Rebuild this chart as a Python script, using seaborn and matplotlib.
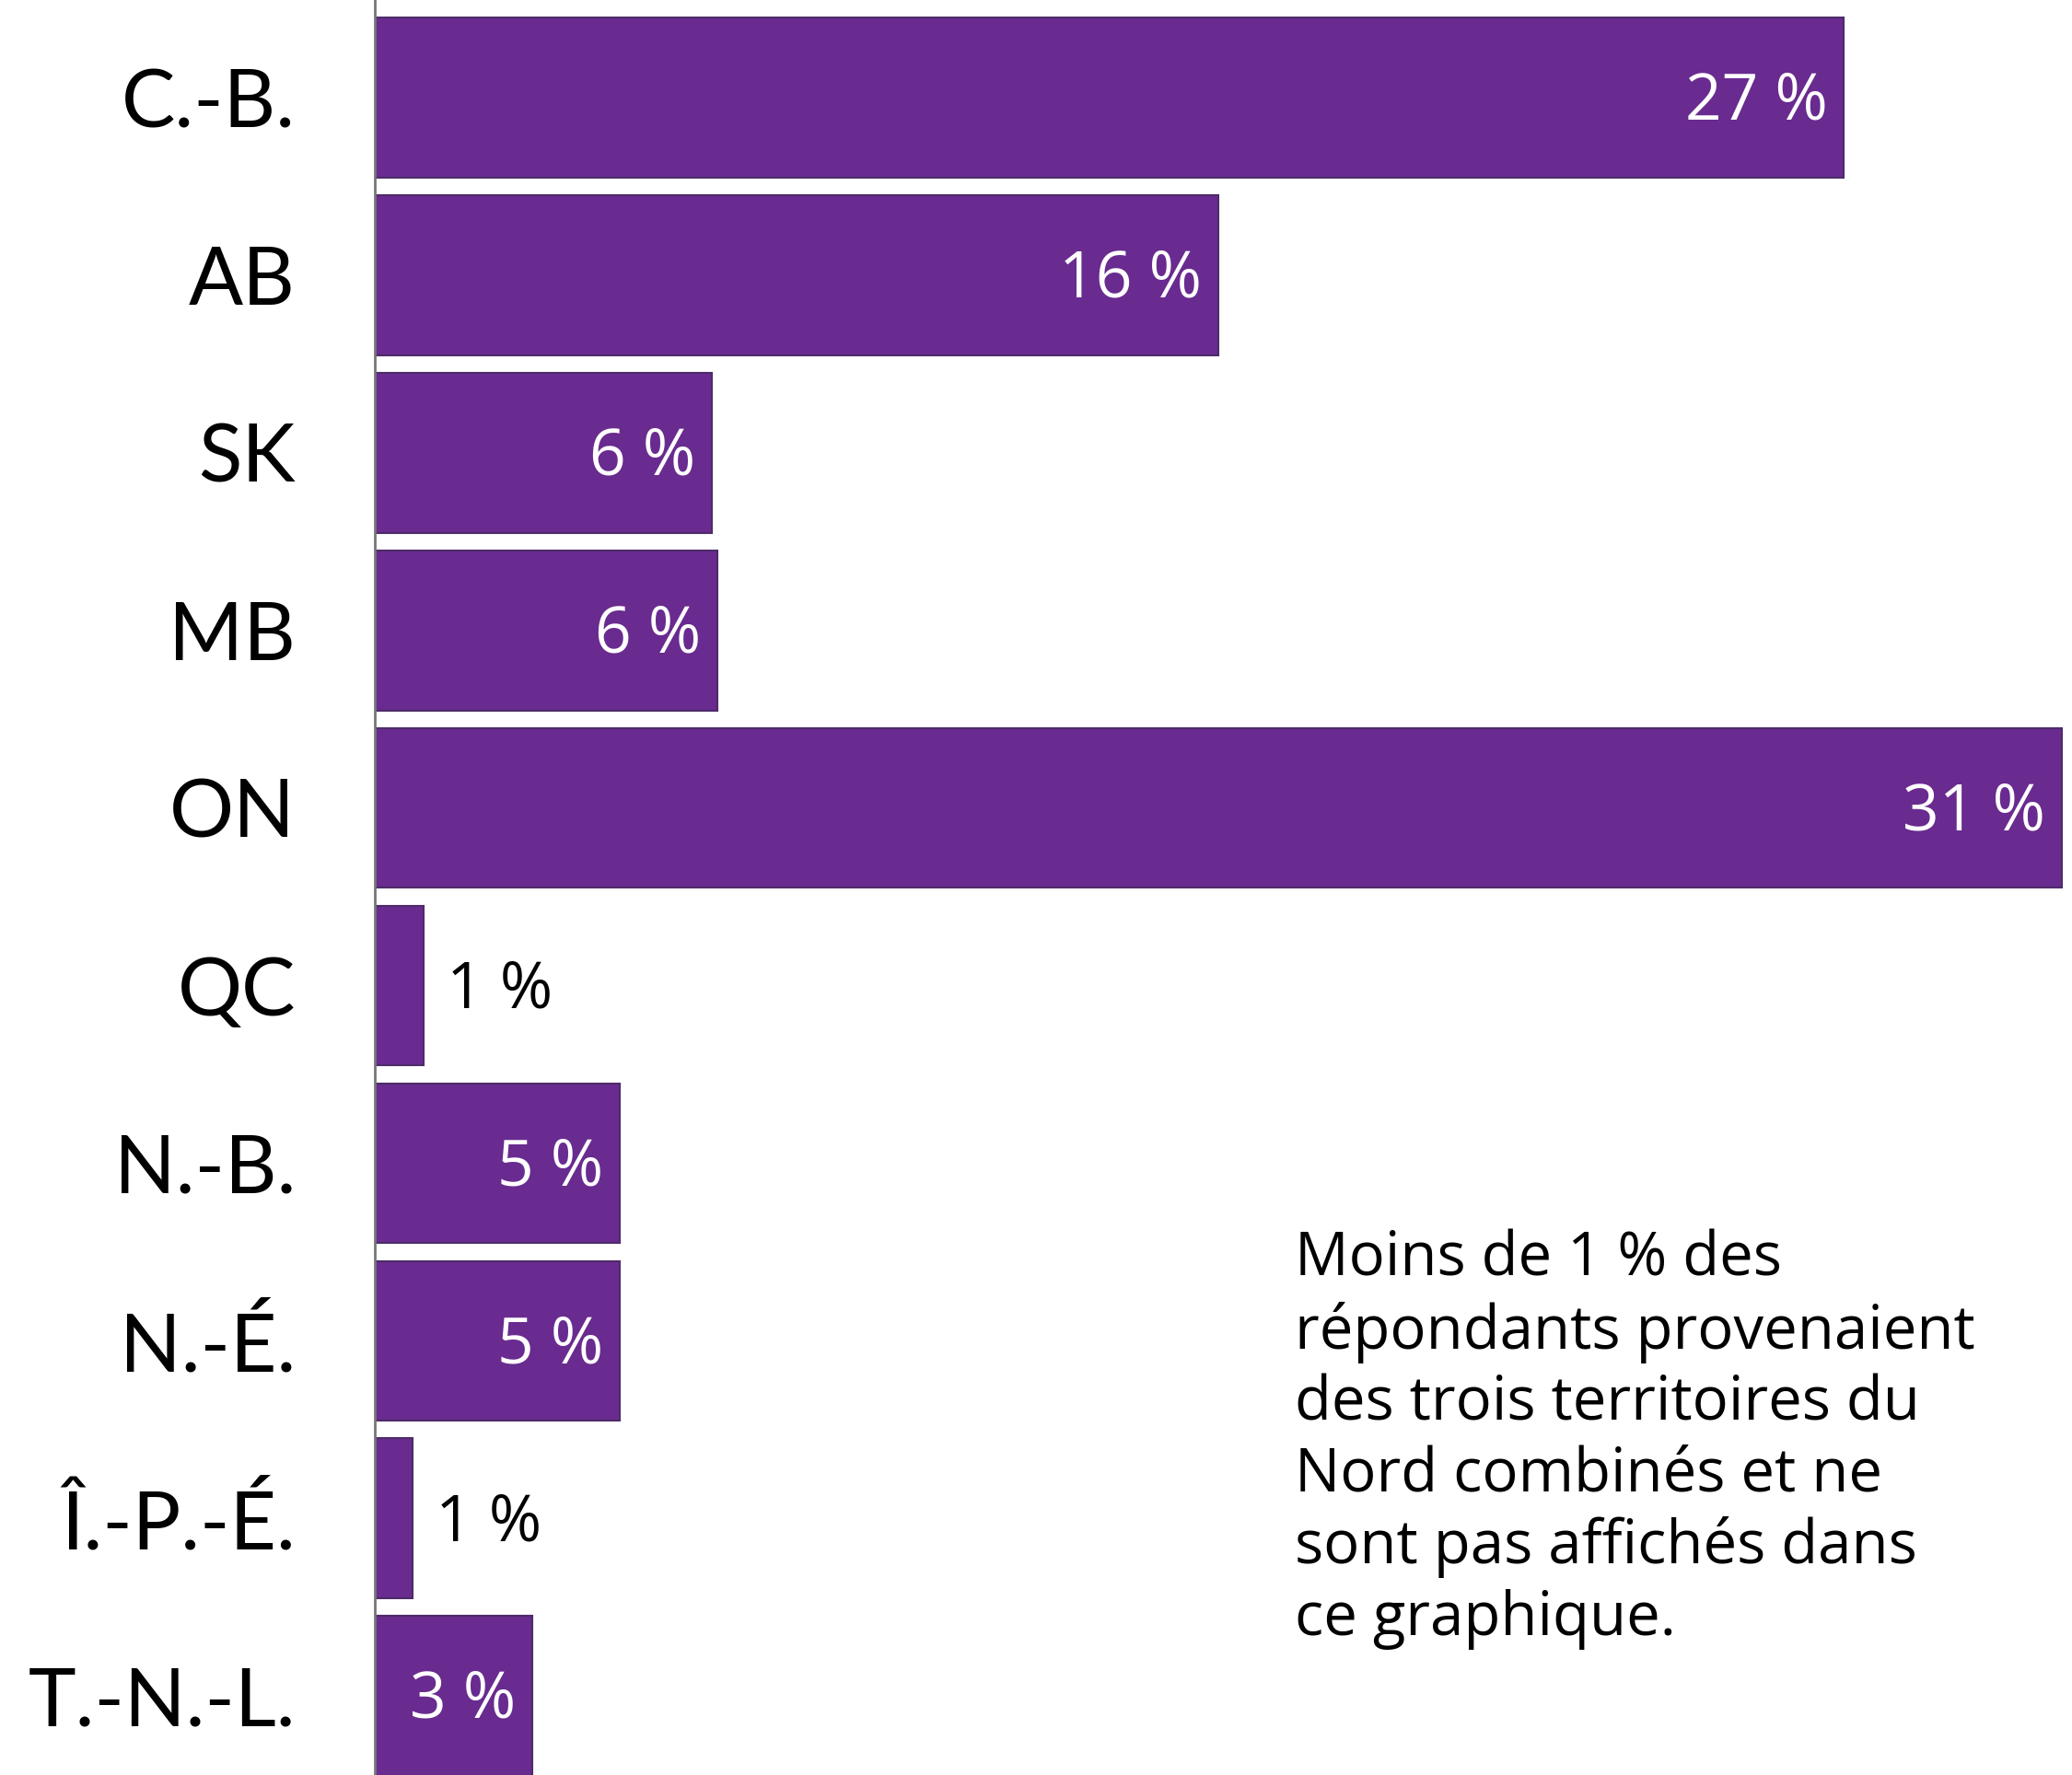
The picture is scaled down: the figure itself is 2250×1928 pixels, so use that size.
import pandas as pd
import numpy as np
import matplotlib
matplotlib.use("Agg")
import matplotlib.pyplot as plt
import seaborn as sns

provinces = ["C.-B.", "AB", "SK", "MB", "ON", "QC", "N.-B.", "N.-É.", "Î.-P.-É.", "T.-N.-L."]
shares = [27.0, 15.5, 6.2, 6.3, 31.0, 0.9, 4.5, 4.5, 0.7, 2.9]
share_labels = ["27 %", "16 %", "6 %", "6 %", "31 %", "1 %", "5 %", "5 %", "1 %", "3 %"]
note = ("Moins de 1 % des\nrépondants provenaient\ndes trois territoires du\n"
        "Nord combinés et ne\nsont pas affichés dans\nce graphique.")

df = pd.DataFrame({"province": provinces, "share": shares})

sns.set_style("white")
plt.rcParams["font.family"] = ["Lato", "DejaVu Sans"]
body_font = ["Open Sans", "DejaVu Sans"]

fig = plt.figure(figsize=(22.5, 19.28), dpi=100)
ax = fig.add_axes([407 / 2250, 0, 1 - 407 / 2250, 1])

sns.barplot(data=df, y="province", x="share", orient="h", color="#692b8f",
            saturation=1, width=0.9, edgecolor="#4e2b69", linewidth=1.5, ax=ax)

ax.set_xlim(0, 31.19)
ax.set_ylim(9.445, -0.55)
ax.set_xlabel("")
ax.set_ylabel("")
ax.set_xticks([])
sns.despine(ax=ax, left=False, bottom=True)
ax.spines["left"].set_color("#777777")
ax.spines["left"].set_linewidth(2)
ax.tick_params(axis="y", length=0, pad=62, labelsize=63, labelcolor="black")

# px -> data units along x
px = 31.19 / (2250 - 407)
for i, (v, lab) in enumerate(zip(shares, share_labels)):
    if v < 2:
        ax.text(v + 25 * px, i + 0.03, lab, ha="left", va="center", fontsize=50,
                color="black", family=body_font)
    else:
        ax.text(v - 18 * px, i + 0.03, lab, ha="right", va="center", fontsize=50,
                color="white", family=body_font)

fig.text(1406 / 2250, 1 - 1336 / 1928, note, ha="left", va="top", fontsize=47,
         linespacing=1.23, color="black", family=body_font)

fig.savefig("out.png", dpi=100)
